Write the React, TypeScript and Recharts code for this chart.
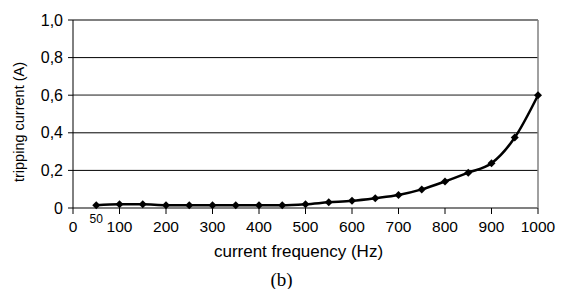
import { LineChart, Line, XAxis, YAxis, CartesianGrid, ReferenceLine } from 'recharts';

const frequencies = [50, 100, 150, 200, 250, 300, 350, 400, 450, 500, 550, 600, 650, 700, 750, 800, 850, 900, 950, 1000];
const trippingCurrent = [0.015, 0.02, 0.02, 0.015, 0.015, 0.015, 0.015, 0.015, 0.015, 0.02, 0.03, 0.038, 0.052, 0.069, 0.099, 0.141, 0.188, 0.238, 0.375, 0.6];
const xTicks = [0, 50, 100, 200, 300, 400, 500, 600, 700, 800, 900, 1000];
const yTicks = [0, 0.2, 0.4, 0.6, 0.8, 1.0];
const grayLines = [0.6, 1.0];

const data = frequencies.map((f, i) => ({ f, current: trippingCurrent[i] }));

const FONT = '"Liberation Sans", Arial, sans-serif';

const fmtY = (v: number) => (v === 0 ? '0' : v.toFixed(1).replace('.', ','));

function XTick(props: any) {
  const { x, y, payload } = props;
  if (payload.value === 50) {
    return (
      <text x={x} y={y + 9} textAnchor="middle" fontSize={12} fontFamily={FONT} fill="#000">
        50
      </text>
    );
  }
  return (
    <g>
      <line x1={x} y1={y - 6} x2={x} y2={y} stroke="#000" />
      <text x={x} y={y + 18} textAnchor="middle" fontSize={15.5} fontFamily={FONT} fill="#000">
        {payload.value}
      </text>
    </g>
  );
}

function Diamond(props: any) {
  const { cx, cy } = props;
  if (cx == null || cy == null) return null;
  const s = 4;
  return <polygon points={`${cx},${cy - s} ${cx + s},${cy} ${cx},${cy + s} ${cx - s},${cy}`} fill="#000" />;
}

function XLabel(props: any) {
  const { viewBox } = props;
  const cx = viewBox.x + viewBox.width / 2;
  const top = viewBox.y;
  return (
    <g>
      <text x={cx - 7} y={top + 49} textAnchor="middle" fontSize={17} fontFamily={FONT} fill="#000">
        current frequency (Hz)
      </text>
      <text x={cx - 24} y={top + 78} textAnchor="middle" fontSize={19} fontFamily='"Liberation Serif", "Times New Roman", serif' fill="#000">
        (b)
      </text>
    </g>
  );
}

function YLabel() {
  return (
    <text x={0} y={0} transform="translate(24,122) rotate(-90)" textAnchor="middle" fontSize={14.5} fontFamily={FONT} fill="#000">
      tripping current (A)
    </text>
  );
}

export default function App() {
  return (
    <div style={{ position: 'absolute', left: 0, top: 0, width: 561, height: 289, background: '#fff' }}>
      <LineChart width={561} height={289} data={data} margin={{ top: 20, right: 23, left: 0, bottom: 1 }}>
        <CartesianGrid horizontal vertical={false} stroke="#000" strokeWidth={1} />
        {grayLines.map((v) => (
          <ReferenceLine key={v} y={v} stroke="#808080" strokeWidth={1.5} />
        ))}
        <ReferenceLine x={1000} stroke="#808080" strokeWidth={1.5} />
        <XAxis
          dataKey="f"
          type="number"
          domain={[0, 1000]}
          ticks={xTicks}
          interval={0}
          height={80}
          tickSize={6}
          tickMargin={0}
          tickLine={false}
          axisLine={{ stroke: '#808080', strokeWidth: 1.5 }}
          tick={<XTick />}
          label={<XLabel />}
        />
        <YAxis
          type="number"
          domain={[0, 1]}
          ticks={yTicks}
          width={73}
          tickSize={5}
          tickMargin={5}
          tickFormatter={fmtY}
          axisLine={{ stroke: '#000' }}
          tickLine={{ stroke: '#000' }}
          tick={{ fill: '#000', fontSize: 16, fontFamily: FONT }}
          label={<YLabel />}
        />
        <Line
          type="monotone"
          dataKey="current"
          stroke="#000"
          strokeWidth={2.5}
          dot={<Diamond />}
          activeDot={false}
          isAnimationActive={false}
        />
      </LineChart>
    </div>
  );
}
